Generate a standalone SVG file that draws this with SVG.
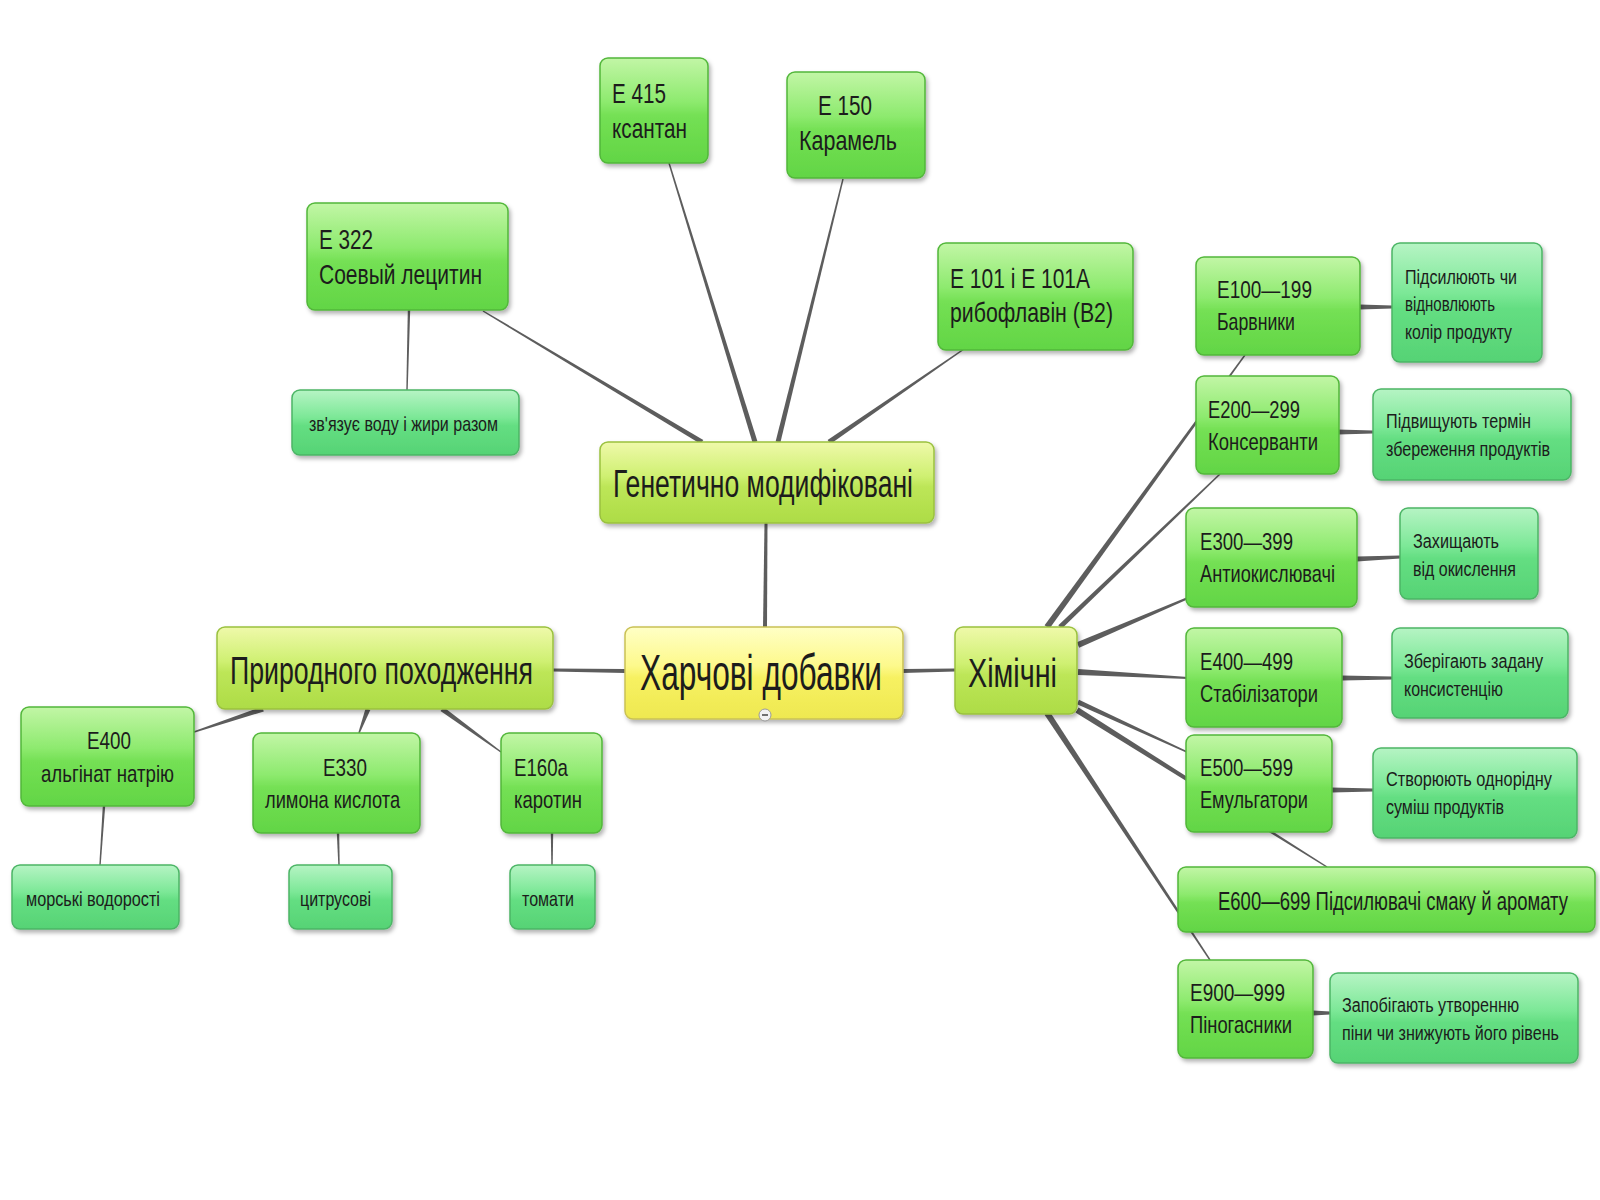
<svg xmlns="http://www.w3.org/2000/svg" width="1600" height="1200" viewBox="0 0 1600 1200">
<defs>
<linearGradient id="gG" x1="0" y1="0" x2="0" y2="1">
<stop offset="0" stop-color="#c2f6a6"/><stop offset="0.42" stop-color="#8dea6e"/><stop offset="0.55" stop-color="#74e054"/><stop offset="1" stop-color="#62d545"/>
</linearGradient>
<linearGradient id="gM" x1="0" y1="0" x2="0" y2="1">
<stop offset="0" stop-color="#b6f4c4"/><stop offset="0.42" stop-color="#7ce897"/><stop offset="0.55" stop-color="#64de82"/><stop offset="1" stop-color="#56d375"/>
</linearGradient>
<linearGradient id="gY" x1="0" y1="0" x2="0" y2="1">
<stop offset="0" stop-color="#eff9aa"/><stop offset="0.42" stop-color="#cff072"/><stop offset="0.55" stop-color="#bde658"/><stop offset="1" stop-color="#addc46"/>
</linearGradient>
<linearGradient id="gYY" x1="0" y1="0" x2="0" y2="1">
<stop offset="0" stop-color="#ffffc6"/><stop offset="0.42" stop-color="#fdf98c"/><stop offset="0.55" stop-color="#f7f162"/><stop offset="1" stop-color="#eee850"/>
</linearGradient>
<filter id="sh" x="-10%" y="-10%" width="125%" height="140%">
<feDropShadow dx="2" dy="3" stdDeviation="2" flood-color="#000" flood-opacity="0.3"/>
</filter>
</defs>
<style>
.n rect{filter:url(#sh);stroke-width:1.5}
.g rect{fill:url(#gG);stroke:#52b73a}
.m rect{fill:url(#gM);stroke:#4cb566}
.y rect{fill:url(#gY);stroke:#9ac13f}
.yy rect{fill:url(#gYY);stroke:#c9c155}
text{font-family:"Liberation Sans",Arial,sans-serif;fill:#1c1c1c}
.f50{font-size:50px}.f40{font-size:40px}.f38{font-size:38px}.f27{font-size:27px}.f25{font-size:25px}.f24{font-size:24px}.f21{font-size:21px}.f20{font-size:20px}
#connectors polygon{fill:#5d5d5d}
</style>
<rect width="1600" height="1200" fill="#ffffff"/>
<g id="connectors">
<polygon points="767,627 767.5,523 764.5,523 763,627"/>
<polygon points="625,669 553,668.5 553,671.5 625,673"/>
<polygon points="903,669 955,668.5 955,671.5 903,673"/>
<polygon points="703.3,439.9 483.4,310.4 482.6,311.6 700.7,444.1"/>
<polygon points="757.4,441.3 669.7,162.8 668.3,163.2 752.6,442.7"/>
<polygon points="780.4,442.6 843.7,179.2 842.3,178.8 775.6,441.4"/>
<polygon points="830.4,444.1 964.4,349.6 963.6,348.4 827.6,439.9"/>
<polygon points="410.2,310 407.7,390 406.3,390 407.8,310"/>
<polygon points="262.2,706.6 193.8,731.3 194.2,732.7 263.8,711.4"/>
<polygon points="365.7,708.1 358.3,732.7 359.7,733.3 370.3,709.9"/>
<polygon points="440.5,711 500.6,752.6 501.4,751.4 443.5,707"/>
<polygon points="105.2,806 100.7,865 99.3,865 102.8,806"/>
<polygon points="339.2,833 339.7,865 338.3,865 336.8,833"/>
<polygon points="553.2,833 552.7,865 551.3,865 550.8,833"/>
<polygon points="1049.4,628.8 1245.6,355.4 1244.4,354.6 1044.6,625.2"/>
<polygon points="1061.7,628.8 1220.5,474.5 1219.5,473.5 1058.3,625.2"/>
<polygon points="1079.2,647.8 1188.4,598.9 1187.6,597.1 1076.8,642.2"/>
<polygon points="1077.8,675 1188,679 1188,677 1078.2,669"/>
<polygon points="1077,704.3 1186.7,752.7 1187.3,751.3 1079,699.7"/>
<polygon points="1075.4,712.5 1326.6,867.6 1327.4,866.4 1078.6,707.5"/>
<polygon points="1044.5,714.7 1209.4,960.4 1210.6,959.6 1049.5,711.3"/>
<polygon points="1360,304.5 1392,305.5 1392,308.5 1360,309.5"/>
<polygon points="1338,429.5 1373,430.5 1373,433.5 1338,434.5"/>
<polygon points="1357,556.5 1400,555.5 1400,558.5 1357,561.5"/>
<polygon points="1342,675.5 1392,676.5 1392,679.5 1342,680.5"/>
<polygon points="1332,787.5 1373,788.5 1373,791.5 1332,792.5"/>
<polygon points="1313,1010.5 1330,1011.5 1330,1014.5 1313,1015.5"/>
</g>

<g id="harchovi" class="n yy">
<rect x="625" y="627" width="278" height="92" rx="8"/>
<text transform="translate(640,690) scale(0.7,1)" class="f50" textLength="345.7" lengthAdjust="spacingAndGlyphs">Харчові добавки</text>
<circle cx="765" cy="715" r="6" fill="#f2f2f2" stroke="#9a9a9a" stroke-width="1"/>
<line x1="762" y1="715" x2="768" y2="715" stroke="#444" stroke-width="1.5"/>
</g>
<g id="genetychno" class="n y">
<rect x="600" y="442" width="334" height="81" rx="8"/>
<text transform="translate(613,497) scale(0.7,1)" class="f38" textLength="428.6" lengthAdjust="spacingAndGlyphs">Генетично модифіковані</text>
</g>
<g id="pryrodnogo" class="n y">
<rect x="217" y="627" width="336" height="82" rx="8"/>
<text transform="translate(230,684) scale(0.7,1)" class="f38" textLength="432.9" lengthAdjust="spacingAndGlyphs">Природного походження</text>
</g>
<g id="khimichni" class="n y">
<rect x="955" y="627" width="122" height="87" rx="8"/>
<text transform="translate(968,687) scale(0.7,1)" class="f40" textLength="127.1" lengthAdjust="spacingAndGlyphs">Хімічні</text>
</g>

<g id="e415" class="n g">
<rect x="600" y="58" width="108" height="105" rx="8"/>
<text transform="translate(612,103) scale(0.7,1)" class="f27" textLength="77.1" lengthAdjust="spacingAndGlyphs">E 415</text>
<text transform="translate(612,138) scale(0.7,1)" class="f27" textLength="107.1" lengthAdjust="spacingAndGlyphs">ксантан</text>
</g>
<g id="e150" class="n g">
<rect x="787" y="72" width="138" height="106" rx="8"/>
<text transform="translate(818,115) scale(0.7,1)" class="f27" textLength="77.1" lengthAdjust="spacingAndGlyphs">E 150</text>
<text transform="translate(799,150) scale(0.7,1)" class="f27" textLength="140" lengthAdjust="spacingAndGlyphs">Карамель</text>
</g>
<g id="e101" class="n g">
<rect x="938" y="243" width="195" height="107" rx="8"/>
<text transform="translate(950,288) scale(0.7,1)" class="f27" textLength="200" lengthAdjust="spacingAndGlyphs">E 101 і E 101A</text>
<text transform="translate(950,322) scale(0.7,1)" class="f27" textLength="232.9" lengthAdjust="spacingAndGlyphs">рибофлавін (B2)</text>
</g>
<g id="e322" class="n g">
<rect x="307" y="203" width="201" height="107" rx="8"/>
<text transform="translate(319,249) scale(0.7,1)" class="f27" textLength="77.1" lengthAdjust="spacingAndGlyphs">E 322</text>
<text transform="translate(319,284) scale(0.7,1)" class="f27" textLength="232.9" lengthAdjust="spacingAndGlyphs">Соевый лецитин</text>
</g>
<g id="zviazuie" class="n m">
<rect x="292" y="390" width="227" height="65" rx="8"/>
<text transform="translate(309,431) scale(0.7,1)" class="f20" textLength="270" lengthAdjust="spacingAndGlyphs">зв'язує воду і жири разом</text>
</g>

<g id="e100" class="n g">
<rect x="1196" y="257" width="164" height="98" rx="8"/>
<text transform="translate(1217,298) scale(0.7,1)" class="f24" textLength="135.7" lengthAdjust="spacingAndGlyphs">E100—199</text>
<text transform="translate(1217,330) scale(0.7,1)" class="f24" textLength="111.4" lengthAdjust="spacingAndGlyphs">Барвники</text>
</g>
<g id="pidsyliuiut" class="n m">
<rect x="1392" y="243" width="150" height="119" rx="8"/>
<text transform="translate(1405,284) scale(0.7,1)" class="f21" textLength="160" lengthAdjust="spacingAndGlyphs">Підсилюють чи</text>
<text transform="translate(1405,311) scale(0.7,1)" class="f21" textLength="128.6" lengthAdjust="spacingAndGlyphs">відновлюють</text>
<text transform="translate(1405,339) scale(0.7,1)" class="f21" textLength="152.9" lengthAdjust="spacingAndGlyphs">колір продукту</text>
</g>
<g id="e200" class="n g">
<rect x="1196" y="376" width="143" height="98" rx="8"/>
<text transform="translate(1208,418) scale(0.7,1)" class="f24" textLength="131.4" lengthAdjust="spacingAndGlyphs">E200—299</text>
<text transform="translate(1208,450) scale(0.7,1)" class="f24" textLength="157.1" lengthAdjust="spacingAndGlyphs">Консерванти</text>
</g>
<g id="pidvyshchuiut" class="n m">
<rect x="1373" y="389" width="198" height="91" rx="8"/>
<text transform="translate(1386,428) scale(0.7,1)" class="f21" textLength="207.1" lengthAdjust="spacingAndGlyphs">Підвищують термін</text>
<text transform="translate(1386,456) scale(0.7,1)" class="f21" textLength="234.3" lengthAdjust="spacingAndGlyphs">збереження продуктів</text>
</g>
<g id="e300" class="n g">
<rect x="1186" y="508" width="171" height="99" rx="8"/>
<text transform="translate(1200,550) scale(0.7,1)" class="f24" textLength="132.9" lengthAdjust="spacingAndGlyphs">E300—399</text>
<text transform="translate(1200,582) scale(0.7,1)" class="f24" textLength="192.9" lengthAdjust="spacingAndGlyphs">Антиокислювачі</text>
</g>
<g id="zakhyshchaiut" class="n m">
<rect x="1400" y="508" width="138" height="91" rx="8"/>
<text transform="translate(1413,548) scale(0.7,1)" class="f21" textLength="122.9" lengthAdjust="spacingAndGlyphs">Захищають</text>
<text transform="translate(1413,576) scale(0.7,1)" class="f21" textLength="147.1" lengthAdjust="spacingAndGlyphs">від окислення</text>
</g>
<g id="e400_499" class="n g">
<rect x="1186" y="628" width="156" height="99" rx="8"/>
<text transform="translate(1200,670) scale(0.7,1)" class="f24" textLength="132.9" lengthAdjust="spacingAndGlyphs">E400—499</text>
<text transform="translate(1200,702) scale(0.7,1)" class="f24" textLength="168.6" lengthAdjust="spacingAndGlyphs">Стабілізатори</text>
</g>
<g id="zberihaiut" class="n m">
<rect x="1392" y="628" width="176" height="90" rx="8"/>
<text transform="translate(1404,668) scale(0.7,1)" class="f21" textLength="198.6" lengthAdjust="spacingAndGlyphs">Зберігають задану</text>
<text transform="translate(1404,696) scale(0.7,1)" class="f21" textLength="141.4" lengthAdjust="spacingAndGlyphs">консистенцію</text>
</g>
<g id="e500" class="n g">
<rect x="1186" y="735" width="146" height="97" rx="8"/>
<text transform="translate(1200,776) scale(0.7,1)" class="f24" textLength="132.9" lengthAdjust="spacingAndGlyphs">E500—599</text>
<text transform="translate(1200,808) scale(0.7,1)" class="f24" textLength="154.3" lengthAdjust="spacingAndGlyphs">Емульгатори</text>
</g>
<g id="stvoriuiut" class="n m">
<rect x="1373" y="748" width="204" height="90" rx="8"/>
<text transform="translate(1386,786) scale(0.7,1)" class="f21" textLength="237.1" lengthAdjust="spacingAndGlyphs">Створюють однорідну</text>
<text transform="translate(1386,814) scale(0.7,1)" class="f21" textLength="168.6" lengthAdjust="spacingAndGlyphs">суміш продуктів</text>
</g>
<g id="e600" class="n g">
<rect x="1178" y="867" width="417" height="65" rx="8"/>
<text transform="translate(1218,910) scale(0.7,1)" class="f25" textLength="500" lengthAdjust="spacingAndGlyphs">E600—699 Підсилювачі смаку й аромату</text>
</g>
<g id="e900" class="n g">
<rect x="1178" y="960" width="135" height="98" rx="8"/>
<text transform="translate(1190,1001) scale(0.7,1)" class="f24" textLength="135.7" lengthAdjust="spacingAndGlyphs">E900—999</text>
<text transform="translate(1190,1033) scale(0.7,1)" class="f24" textLength="145.7" lengthAdjust="spacingAndGlyphs">Піногасники</text>
</g>
<g id="zapobihaiut" class="n m">
<rect x="1330" y="973" width="248" height="90" rx="8"/>
<text transform="translate(1342,1012) scale(0.7,1)" class="f21" textLength="252.9" lengthAdjust="spacingAndGlyphs">Запобігають утворенню</text>
<text transform="translate(1342,1040) scale(0.7,1)" class="f21" textLength="310" lengthAdjust="spacingAndGlyphs">піни чи знижують його рівень</text>
</g>

<g id="e400" class="n g">
<rect x="21" y="707" width="173" height="99" rx="8"/>
<text transform="translate(87,749) scale(0.7,1)" class="f24" textLength="62.9" lengthAdjust="spacingAndGlyphs">E400</text>
<text transform="translate(41,782) scale(0.7,1)" class="f24" textLength="190" lengthAdjust="spacingAndGlyphs">альгінат натрію</text>
</g>
<g id="morski" class="n m">
<rect x="12" y="865" width="167" height="64" rx="8"/>
<text transform="translate(26,906) scale(0.7,1)" class="f20" textLength="191.4" lengthAdjust="spacingAndGlyphs">морські водорості</text>
</g>
<g id="e330" class="n g">
<rect x="253" y="733" width="167" height="100" rx="8"/>
<text transform="translate(323,776) scale(0.7,1)" class="f24" textLength="62.9" lengthAdjust="spacingAndGlyphs">E330</text>
<text transform="translate(265,808) scale(0.7,1)" class="f24" textLength="192.9" lengthAdjust="spacingAndGlyphs">лимона кислота</text>
</g>
<g id="tsytrusovi" class="n m">
<rect x="289" y="865" width="103" height="64" rx="8"/>
<text transform="translate(300,906) scale(0.7,1)" class="f20" textLength="101.4" lengthAdjust="spacingAndGlyphs">цитрусові</text>
</g>
<g id="e160a" class="n g">
<rect x="501" y="733" width="101" height="100" rx="8"/>
<text transform="translate(514,776) scale(0.7,1)" class="f24" textLength="77.1" lengthAdjust="spacingAndGlyphs">E160a</text>
<text transform="translate(514,808) scale(0.7,1)" class="f24" textLength="97.1" lengthAdjust="spacingAndGlyphs">каротин</text>
</g>
<g id="tomaty" class="n m">
<rect x="510" y="865" width="85" height="64" rx="8"/>
<text transform="translate(522,906) scale(0.7,1)" class="f20" textLength="74.3" lengthAdjust="spacingAndGlyphs">томати</text>
</g>
</svg>
